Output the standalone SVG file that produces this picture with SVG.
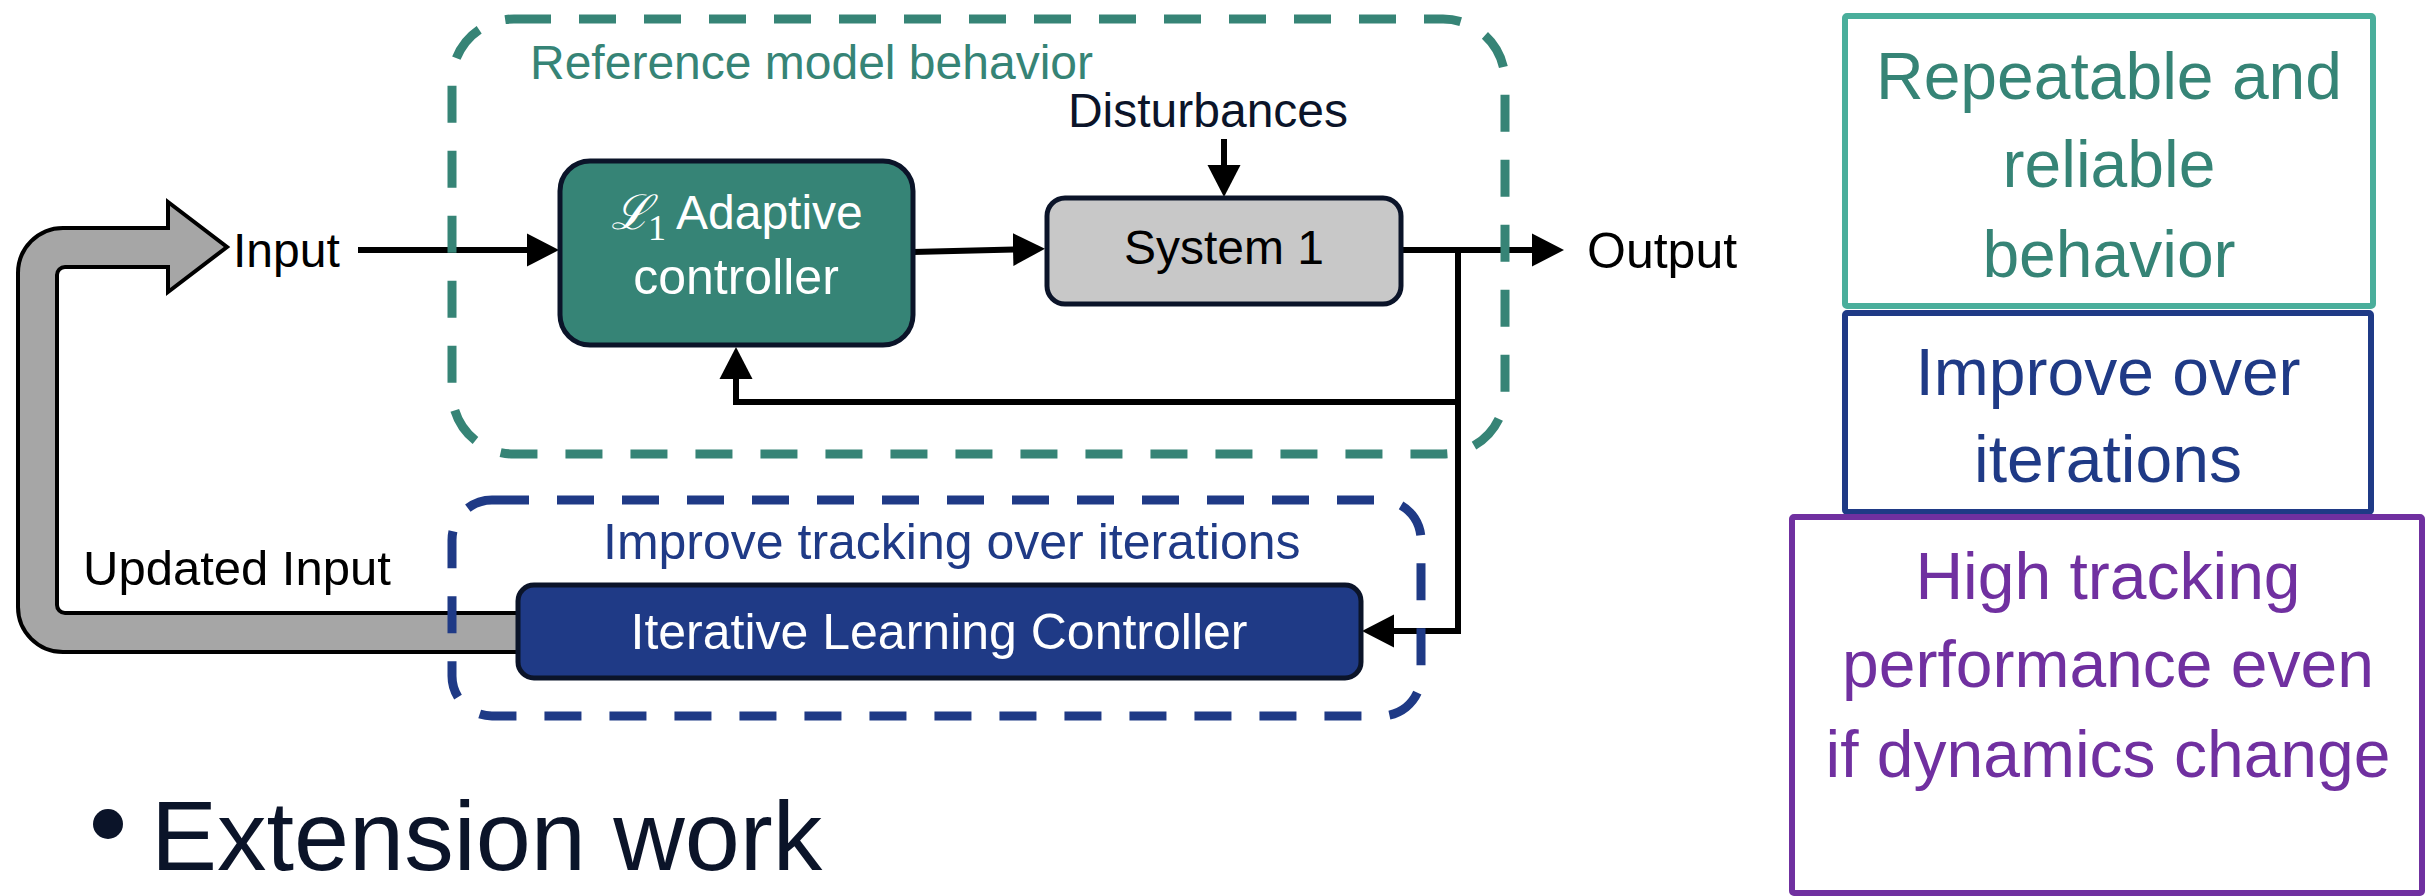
<svg xmlns="http://www.w3.org/2000/svg" width="2428" height="896" viewBox="0 0 2428 896">
<defs>
<style>
text { font-family: "Liberation Sans", Arial, sans-serif; }
.lbl { font-size: 48px; fill: #000; }
.dark { fill: #0b1429; }
.white { fill: #fff; }
.conn { fill: none; stroke: #000; stroke-width: 6; stroke-linejoin: miter; }
.dash { fill: none; stroke-width: 9; stroke-dasharray: 37 28; }
.teal { stroke: #368476; }
.navy { stroke: #1f3a86; }
.node { stroke: #0b1429; stroke-width: 5; }
.big { font-size: 66px; text-anchor: middle; }
</style>
<marker id="ah" markerUnits="userSpaceOnUse" markerWidth="34" markerHeight="34" viewBox="0 -17 34 34" refX="1" refY="0" orient="auto">
<path d="M0,-16.5 L32,0 L0,16.5 Z" fill="#000"/>
</marker>
</defs>
<rect x="0" y="0" width="2428" height="896" fill="#fff"/>

<g id="updated-input-arrow">
<path d="M530,652 H63 A45,45 0 0 1 18,607 V273 A45,45 0 0 1 63,228 H168 V202 L227,247 L168,292 V267 H65 A8,8 0 0 0 57,275 V605 A8,8 0 0 0 65,613 H530 Z" fill="#a6a6a6" stroke="#000" stroke-width="4"/>
<text class="lbl" x="233" y="267">Input</text>
<text class="lbl" x="83" y="585" style="font-size:49px">Updated Input</text>
</g>

<g id="connectors">
<path class="conn" d="M358,250 H528" marker-end="url(#ah)"/>
<path class="conn" d="M913,252 L1014,249.5" marker-end="url(#ah)"/>
<path class="conn" d="M1224,139 V166" marker-end="url(#ah)"/>
<path class="conn" d="M1401,250 H1533" marker-end="url(#ah)"/>
<path class="conn" d="M1458,250 V631 H1393" marker-end="url(#ah)"/>
<path class="conn" d="M1458,402 H736 V378" marker-end="url(#ah)"/>
</g>

<g id="reference-model-group">
<rect class="dash teal" x="452" y="19" width="1053" height="435" rx="62"/>
<text x="530" y="79" style="font-size:48px;fill:#368476">Reference model behavior</text>
</g>

<g id="ilc-group">
<rect class="dash navy" x="452" y="500" width="969" height="216" rx="40"/>
<text x="603" y="559" style="font-size:50px;fill:#1f3a86">Improve tracking over iterations</text>
</g>

<g id="l1-controller">
<rect class="node" x="560" y="161" width="353" height="184" rx="30" fill="#368476"/>
<text class="white" style="font-size:48px"><tspan x="611" y="229" style="font-family:'DejaVu Serif',serif;font-style:italic">ℒ</tspan><tspan x="648" y="240" style="font-family:'Liberation Serif',serif;font-size:36px">1</tspan><tspan x="676" y="229">Adaptive</tspan></text>
<text class="white" x="736" y="294" style="font-size:50px;text-anchor:middle">controller</text>
</g>

<g id="system1">
<rect class="node" x="1047" y="198" width="354" height="106" rx="18" fill="#c8c8c8"/>
<text class="lbl" x="1224" y="264" style="text-anchor:middle">System 1</text>
</g>

<g id="disturbances">
<text class="lbl dark" x="1208" y="127" style="text-anchor:middle">Disturbances</text>
</g>

<g id="output">
<text class="lbl" x="1587" y="268" style="font-size:50px">Output</text>
</g>

<g id="ilc">
<rect class="node" x="518" y="585" width="843" height="93" rx="16" fill="#1f3a86"/>
<text class="white" x="939" y="649" style="font-size:50px;text-anchor:middle">Iterative Learning Controller</text>
</g>

<g id="box-repeatable">
<rect x="1845" y="16" width="528" height="290" rx="2" fill="#fff" stroke="#4aae9b" stroke-width="6"/>
<text class="big" style="fill:#368476"><tspan x="2109" y="99">Repeatable and</tspan><tspan x="2109" y="187">reliable</tspan><tspan x="2109" y="277">behavior</tspan></text>
</g>

<g id="box-improve">
<rect x="1845" y="313" width="526" height="199" rx="2" fill="#fff" stroke="#1f3a86" stroke-width="6"/>
<text class="big" style="fill:#1f3a86"><tspan x="2108" y="395">Improve over</tspan><tspan x="2108" y="482">iterations</tspan></text>
</g>

<g id="box-high-tracking">
<rect x="1792" y="517" width="630" height="376" rx="2" fill="#fff" stroke="#7030a0" stroke-width="6"/>
<text class="big" style="fill:#7030a0"><tspan x="2108" y="599">High tracking</tspan><tspan x="2108" y="687">performance even</tspan><tspan x="2108" y="777">if dynamics change</tspan></text>
</g>

<g id="extension-work">
<circle cx="108" cy="824" r="15" fill="#0b1429"/>
<text x="151" y="870" style="font-size:99px;fill:#0b1429">Extension work</text>
</g>
</svg>
